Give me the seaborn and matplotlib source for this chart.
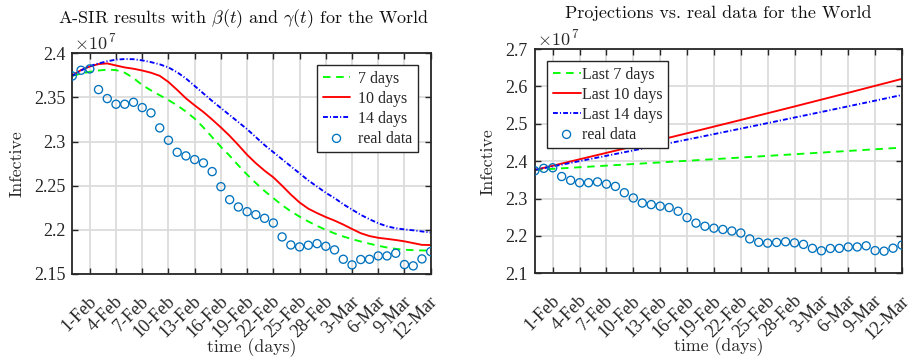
import numpy as np
import pandas as pd
import matplotlib
matplotlib.use("Agg")
import matplotlib.pyplot as plt
from matplotlib.ticker import FuncFormatter
from matplotlib.transforms import ScaledTranslation
import seaborn as sns

# ---------------------------------------------------------------------------
# Data (values in units of 10^7 infective people), daily from 30 Jan 2021
# ---------------------------------------------------------------------------
start_date = "2021-01-30"
end_date = "2021-03-12"

real_data = [2.3743, 2.3808, 2.3823, 2.3589, 2.3487, 2.3423, 2.3423, 2.3445, 2.3385, 2.3325,
             2.3155, 2.3015, 2.2879, 2.2838, 2.2796, 2.2758, 2.2660, 2.2489, 2.2342, 2.2259,
             2.2206, 2.2172, 2.2131, 2.2078, 2.1920, 2.1829, 2.1807, 2.1826, 2.1844, 2.1814,
             2.1773, 2.1667, 2.1603, 2.1664, 2.1667, 2.1705, 2.1705, 2.1735, 2.1607, 2.1592,
             2.1671, 2.1754]

# A-SIR fits with time-dependent beta and gamma, estimated over 7/10/14-day windows
fit_7_days = [2.3745, 2.3770, 2.3790, 2.3805, 2.3815, 2.3810, 2.3780, 2.3720, 2.3640, 2.3580,
              2.3525, 2.3470, 2.3410, 2.3340, 2.3260, 2.3160, 2.3050, 2.2940, 2.2840, 2.2730,
              2.2625, 2.2530, 2.2440, 2.2360, 2.2280, 2.2210, 2.2150, 2.2095, 2.2045, 2.2000,
              2.1960, 2.1925, 2.1895, 2.1868, 2.1843, 2.1820, 2.1800, 2.1785, 2.1775, 2.1770,
              2.1767, 2.1765]
fit_10_days = [2.3750, 2.3810, 2.3850, 2.3878, 2.3885, 2.3862, 2.3840, 2.3825, 2.3805, 2.3780,
               2.3745, 2.3675, 2.3585, 2.3490, 2.3410, 2.3335, 2.3250, 2.3160, 2.3065, 2.2960,
               2.2850, 2.2755, 2.2670, 2.2595, 2.2500, 2.2400, 2.2310, 2.2240, 2.2190, 2.2145,
               2.2105, 2.2060, 2.2010, 2.1962, 2.1930, 2.1910, 2.1898, 2.1885, 2.1870, 2.1850,
               2.1830, 2.1828]
fit_14_days = [2.3745, 2.3805, 2.3855, 2.3885, 2.3910, 2.3928, 2.3935, 2.3933, 2.3920, 2.3900,
               2.3875, 2.3840, 2.3785, 2.3715, 2.3630, 2.3545, 2.3460, 2.3380, 2.3300, 2.3220,
               2.3140, 2.3050, 2.2960, 2.2880, 2.2800, 2.2720, 2.2640, 2.2560, 2.2490, 2.2420,
               2.2360, 2.2290, 2.2230, 2.2170, 2.2120, 2.2075, 2.2040, 2.2018, 2.2005, 2.1995,
               2.1982, 2.1970]

# Projections made from the parameters of the last 7/10/14 days
proj_dates = ["2021-01-30", "2021-02-01", "2021-02-04", "2021-02-07", "2021-02-10",
              "2021-02-13", "2021-02-16", "2021-02-19", "2021-02-22", "2021-02-25",
              "2021-02-28", "2021-03-03", "2021-03-06", "2021-03-09", "2021-03-12"]
proj_last_7 = [2.3765, 2.3794, 2.3837, 2.3880, 2.3923, 2.3966, 2.4010, 2.4053, 2.4097,
               2.4141, 2.4185, 2.4229, 2.4273, 2.4318, 2.4362]
proj_last_10 = [2.3765, 2.3878, 2.4050, 2.4222, 2.4395, 2.4570, 2.4746, 2.4924, 2.5102,
                2.5282, 2.5463, 2.5646, 2.5829, 2.6015, 2.6201]
proj_last_14 = [2.3765, 2.3859, 2.4001, 2.4144, 2.4287, 2.4432, 2.4577, 2.4723, 2.4870,
                2.5018, 2.5167, 2.5316, 2.5467, 2.5618, 2.5771]

left_labels = ["7 days", "10 days", "14 days", "real data"]
right_labels = ["Last 7 days", "Last 10 days", "Last 14 days", "real data"]
left_title = r"A-SIR results with $\beta(t)$ and $\gamma(t)$ for the World"
right_title = "Projections vs. real data for the World"
left_yticks = [2.15, 2.2, 2.25, 2.3, 2.35, 2.4]
right_yticks = [2.1, 2.2, 2.3, 2.4, 2.5, 2.6, 2.7]

# ---------------------------------------------------------------------------
dates = pd.date_range(start_date, periods=len(real_data), freq="D")
fit = pd.DataFrame({"date": dates, "real": real_data,
                    "d7": fit_7_days, "d10": fit_10_days, "d14": fit_14_days})
proj = pd.DataFrame({"date": pd.to_datetime(proj_dates), "p7": proj_last_7,
                     "p10": proj_last_10, "p14": proj_last_14})
tick_dates = pd.date_range("2021-02-01", end_date, freq="3D")

sns.set_style("white")
plt.rcParams.update({
    "font.family": ["Liberation Serif", "DejaVu Serif"],
    "mathtext.fontset": "cm",
    "axes.unicode_minus": False,
})

AXCOL = "#262626"
GREEN, RED, BLUE, DOTS = "#00ff00", "#ff0000", "#0000ff", "#0072bd"
line_styles = [(GREEN, (0, (4, 3))), (RED, "-"), (BLUE, (0, (2.6, 1.1, 0.6, 1.1)))]
CM = "cmr10"

W, H = 908, 361
fig = plt.figure(figsize=(W / 100, H / 100), dpi=100)
ax1 = fig.add_axes([72.3 / W, 1 - 274 / H, (430.7 - 72.3) / W, (274 - 53.3) / H])
ax2 = fig.add_axes([534.8 / W, 1 - 273.3 / H, (902 - 534.8) / W, (273.3 - 49) / H])


def draw(ax, df, cols, labels):
    for (color, ls), col, lab in zip(line_styles, cols, labels[:3]):
        sns.lineplot(data=df, x="date", y=col, ax=ax, color=color, linestyle=ls,
                     linewidth=1.35, label=lab, legend=False)
    sns.scatterplot(data=fit, x="date", y="real", ax=ax, marker="o", s=34,
                    facecolors="none", edgecolor=DOTS, linewidth=0.95,
                    label=labels[3], legend=False, zorder=3)


def style(ax, yticks, title, title_x, xlab_y, ylab_x):
    ax.set_xlim(pd.Timestamp(start_date), pd.Timestamp(end_date))
    ax.set_ylim(yticks[0], yticks[-1])
    ax.set_yticks(yticks)
    ax.yaxis.set_major_formatter(FuncFormatter(lambda v, p: f"{round(v, 2):g}"))
    ax.set_xticks(tick_dates)
    ax.set_xticklabels([f"{d.day}-{d:%b}" for d in tick_dates], rotation=45,
                       ha="right", va="center", rotation_mode="anchor")
    ax.tick_params(axis="both", direction="in", length=4, width=1.0, color=AXCOL,
                   labelcolor=AXCOL, labelsize=13, top=True, right=True,
                   bottom=True, left=True)
    ax.tick_params(axis="x", pad=18)
    ax.tick_params(axis="y", pad=5)
    # nudge the slanted date labels so their ends sit just right of each tick
    shift = ScaledTranslation(3 / 72, 0, fig.dpi_scale_trans)
    for lbl in ax.get_xticklabels():
        lbl.set_transform(lbl.get_transform() + shift)
    ax.grid(True, color="#dcdcdc", linewidth=1.3)
    ax.set_axisbelow(True)
    for sp in ax.spines.values():
        sp.set_color(AXCOL)
        sp.set_linewidth(1.3)
    ax.set_xlabel("time (days)", fontfamily=CM, fontsize=12.8, color=AXCOL)
    ax.xaxis.set_label_coords(0.5, xlab_y)
    ax.xaxis.label.set_va("center")
    ax.set_ylabel("Infective", fontfamily=CM, fontsize=12.8, color=AXCOL)
    ax.yaxis.set_label_coords(ylab_x, 0.5)
    ax.text(title_x, 1.136, title, transform=ax.transAxes, ha="center", va="baseline",
            fontfamily=CM, fontsize=13, color="#111111")
    ax.text(0.005, 1.015, r"$\times 10^{\,7}$", transform=ax.transAxes, ha="left",
            va="baseline", fontsize=13, color=AXCOL)


draw(ax1, fit, ["d7", "d10", "d14"], left_labels)
draw(ax2, proj, ["p7", "p10", "p14"], right_labels)
style(ax1, left_yticks, left_title, 0.477, -0.334, -0.132)
style(ax2, right_yticks, right_title, 0.5, -0.328, -0.106)

leg_kw = dict(frameon=True, fancybox=False, framealpha=1, edgecolor=AXCOL,
              borderaxespad=0, prop={"family": "Liberation Serif", "size": 11.5},
              handlelength=1.75, labelspacing=0.25, borderpad=0.35)
l1 = ax1.legend(loc="upper right", bbox_to_anchor=(0.9654, 0.947),
                handletextpad=0.5, **leg_kw)
l2 = ax2.legend(loc="upper left", bbox_to_anchor=(0.0332, 0.9465),
                handletextpad=0.1, **leg_kw)
for lg in (l1, l2):
    lg.get_frame().set_linewidth(1.0)

fig.savefig("out.png", dpi=100, facecolor="white")
